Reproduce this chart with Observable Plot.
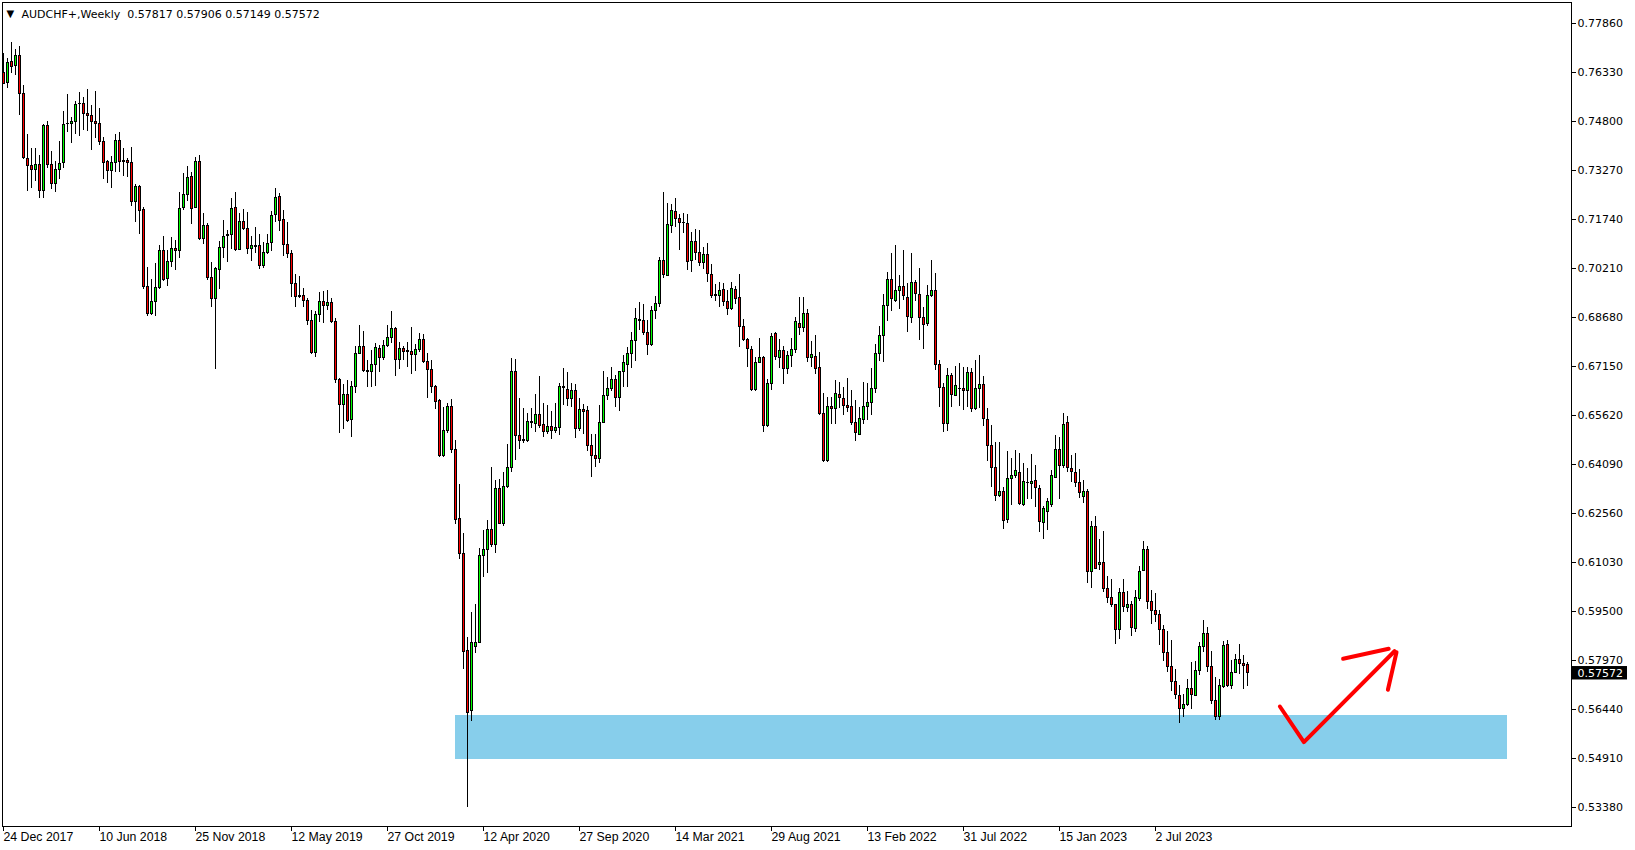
<!DOCTYPE html>
<html><head><meta charset="utf-8">
<script src="https://cdn.jsdelivr.net/npm/d3@7"></script>
<script src="https://cdn.jsdelivr.net/npm/@observablehq/plot@0.6"></script>
<style>html,body{margin:0;padding:0;background:#fff;} #chart svg{display:block}</style>
</head><body><div id="chart"></div>
<script>
// Weekly AUDCHF+ bars, one per week from 24 Dec 2017 (bar index 0)
const open = [
.76319,.76007,.76673,.76527,.7686,.75663,.73633,.73425,.7329,.73446,.72634,.74674,
.73446,.72853,.7329,.73508,.74716,.74716,.74778,.75351,.75351,.75039,.74987,.74799,
.74726,.74164,.73529,.73248,.73508,.74195,.73571,.73571,.73508,.7228,.72759,.72041,
.69636,.68793,.69157,.69594,.7076,.69886,.70406,.70823,.7075,.72093,.72509,.73071,
.72093,.7355,.71125,.71541,.69918,.69262,.70168,.70855,.7123,.71271,.72104,.70792,
.71677,.71448,.70813,.70917,.70917,.70293,.70699,.71011,.71885,.72458,.71729,.70949,
.70667,.69731,.69366,.69356,.6921,.68585,.67565,.68773,.69168,.69044,.69148,.68554,
.66733,.65941,.66264,.65483,.66514,.67544,.67774,.67024,.66982,.67201,.67711,.6742,
.67794,.68044,.68325,.67357,.67711,.67597,.67617,.67513,.67669,.67982,.67284,.67045,
.66524,.66088,.6435,.65151,.6589,.64547,.62392,.61299,.5828,.56396,.58405,.5852,
.61237,.61424,.62049,.61581,.63329,.62236,.63381,.63985,.66983,.64985,.64828,.64839,
.65391,.65359,.6564,.65338,.65099,.65266,.6513,.65234,.66525,.66431,.6614,.664,
.65203,.65797,.65776,.64672,.6437,.64266,.65391,.66234,.66452,.66733,.66171,.66994,
.67202,.67545,.67941,.68607,.68586,.68201,.67815,.68898,.69106,.7046,.69991,.71532,
.71969,.71761,.71646,.71605,.70439,.71043,.70699,.70376,.70647,.70022,.69377,.69346,
.69544,.69158,.68961,.69554,.69294,.68398,.67982,.6768,.66431,.67274,.6743,.65286,
.66608,.68169,.67409,.67638,.67066,.67472,.6767,.68482,.68357,.68794,.6742,.67462,
.67097,.65672,.64194,.65901,.65828,.66265,.6612,.65932,.65901,.65391,.65016,.65484,
.6588,.66025,.66452,.67545,.68107,.69044,.69856,.6918,.69513,.69648,.69294,.6867,
.69763,.69388,.6867,.68482,.69336,.69523,.67202,.66483,.65359,.66858,.66244,.66442,
.66463,.664,.66952,.65828,.66452,.66577,.65494,.64672,.63985,.631,.63246,.62361,
.63642,.63725,.63829,.6283,.63527,.63485,.63589,.63329,.62267,.62601,.6284,.63673,
.64547,.64037,.65391,.63954,.63839,.63527,.63069,.63246,.60727,.62153,.60956,.61018,
.60206,.59925,.59707,.58926,.60081,.59603,.59707,.58957,.59884,.60758,.61424,.598,
.59519,.59394,.58926,.58207,.57781,.57312,.56865,.56448,.56573,.57094,.56865,.57635,
.58384,.58801,.57781,.56719,.56198,.57156,.58458,.57187,.57572,.57999,.57875,.57817];
const high = [
.76912,.76756,.77256,.77048,.77141,.75923,.74393,.73946,.73946,.73737,.74695,.74799,
.73862,.7355,.74175,.75112,.75632,.74935,.75424,.75715,.75559,.75799,.75299,.75736,
.75195,.743,.73581,.73717,.74393,.74456,.73946,.73654,.73987,.72832,.728,.72103,
.7024,.69855,.70365,.70927,.71208,.7077,.71177,.71072,.72571,.73186,.73394,.73217,
.73675,.73737,.71916,.71603,.70407,.70251,.71063,.71708,.71396,.72396,.72583,.71938,
.72062,.71958,.71209,.715,.71261,.71021,.71271,.7199,.72708,.72562,.72021,.71656,
.70772,.70022,.6996,.69595,.69262,.68898,.68856,.6945,.69491,.69522,.69262,.68658,
.66764,.66576,.66712,.66691,.67774,.68429,.68242,.67336,.67649,.67857,.67815,.67961,
.68419,.68867,.68377,.67898,.67774,.67909,.68367,.67836,.68169,.68138,.67544,.67336,
.66556,.66119,.65859,.65984,.66119,.64839,.63465,.61924,.58676,.59467,.59717,.61456,
.62028,.6234,.63996,.6359,.63621,.6385,.64714,.67389,.67358,.66161,.65849,.65672,
.65828,.66275,.66838,.65984,.65921,.65744,.65984,.66608,.67077,.66973,.66608,.66588,
.6614,.65963,.65901,.65026,.65016,.65921,.66994,.66796,.67108,.66869,.67004,.67483,
.67733,.68222,.68972,.69148,.69085,.68586,.69033,.69335,.70543,.72583,.7225,.72198,
.72396,.71896,.71938,.71886,.71344,.71417,.71396,.70876,.7098,.70335,.697,.69783,
.69752,.69523,.69762,.69648,.70022,.68607,.68013,.67774,.67441,.68024,.67462,.66743,
.68169,.68221,.67982,.67784,.67628,.68013,.6869,.69304,.69304,.68919,.6793,.68107,
.67576,.66296,.66192,.66191,.66712,.66639,.66504,.66764,.664,.66087,.65858,.6666,
.66608,.67077,.67837,.68399,.69388,.70085,.70689,.70929,.69981,.70772,.69731,.70668,
.69835,.7021,.69003,.69679,.7046,.70044,.67337,.66608,.67077,.66921,.6715,.67254,
.67129,.67129,.67098,.67337,.67483,.66837,.65848,.65307,.64776,.64776,.6336,.64506,
.64287,.64526,.64422,.6411,.63954,.64401,.64058,.63433,.62777,.63017,.63902,.64995,
.64943,.65672,.65588,.6437,.64422,.63923,.6359,.63309,.62309,.62465,.61737,.61997,
.60592,.60498,.59717,.60206,.60498,.60123,.59821,.60144,.60904,.61685,.61528,.60144,
.6005,.59519,.59051,.58874,.58593,.57677,.57187,.56906,.57375,.57916,.57937,.5852,
.59217,.59009,.5826,.57448,.57385,.58562,.58603,.57968,.58156,.58468,.58124,.57906];
const low = [
.7595,.7584,.76288,.76236,.74987,.73612,.72624,.72717,.72936,.72384,.72405,.73342,
.72686,.72592,.72977,.73321,.74445,.74102,.74404,.74341,.74518,.74487,.73894,.74258,
.7405,.72988,.72873,.72717,.73196,.73217,.73092,.73061,.72155,.71655,.71281,.69553,
.6872,.68741,.6872,.69553,.69802,.69657,.7025,.70146,.70531,.7202,.72311,.71593,
.72072,.71083,.70968,.69834,.68981,.67066,.69543,.70511,.70407,.70792,.7074,.70772,
.71396,.70636,.70438,.70688,.70178,.70199,.70647,.70751,.71636,.71375,.70584,.70532,
.69314,.68981,.69283,.68981,.68419,.67524,.6744,.68523,.68481,.68898,.68481,.66608,
.65046,.65181,.6539,.64942,.66295,.67524,.66951,.66503,.66483,.66535,.66951,.67336,
.67753,.67878,.66847,.67066,.67336,.67128,.66889,.67003,.67597,.67232,.6616,.66295,
.65816,.64318,.64318,.65047,.64422,.62205,.61133,.57677,.53388,.56074,.58176,.58489,
.60571,.60675,.61508,.61299,.62205,.62163,.6335,.6385,.64214,.64547,.64735,.64766,
.65203,.65078,.65224,.64943,.65026,.6486,.65047,.65005,.65932,.65901,.6588,.64891,
.6513,.65016,.64495,.63673,.63985,.6411,.6536,.66088,.66379,.6588,.65755,.66504,
.66484,.67098,.67316,.68273,.68117,.67503,.67784,.68617,.69002,.69908,.6997,.71292,
.71501,.70772,.71292,.70147,.70095,.7046,.70272,.70168,.69762,.69283,.69179,.69002,
.69023,.68752,.6889,.6909,.67753,.6792,.67128,.66379,.66379,.67232,.65098,.65255,
.664,.67337,.67076,.66587,.66899,.67128,.67545,.68117,.68221,.67285,.67128,.66889,
.65619,.64142,.64163,.65339,.65339,.65848,.65619,.65724,.65308,.64818,.64995,.65338,
.65463,.65619,.66296,.67316,.67285,.68565,.68878,.69159,.68919,.69211,.68201,.68503,
.6919,.67962,.6767,.68409,.69315,.67025,.6588,.65078,.65109,.6588,.66213,.65901,
.65776,.6588,.65724,.65776,.65828,.65276,.64193,.63381,.62944,.63069,.62059,.62236,
.62809,.63642,.62798,.62788,.62986,.62986,.62757,.61976,.61737,.62028,.62757,.63642,
.62986,.63975,.6385,.63538,.63361,.63038,.62861,.60383,.60227,.6081,.60779,.60102,
.59738,.59634,.58478,.58614,.59457,.59467,.58728,.58832,.59821,.60748,.59561,.59103,
.59165,.58437,.57947,.57583,.57,.5675,.56011,.56198,.56532,.56448,.56844,.575,
.58228,.57604,.56584,.56094,.56094,.57083,.57135,.57063,.57552,.57531,.57063,.57149];
const close = [
.75976,.76631,.76496,.7686,.75663,.73654,.73425,.7329,.73446,.72634,.74674,.73446,
.72853,.7329,.73477,.74695,.74726,.74789,.7532,.75341,.75039,.74966,.74778,.74716,
.74154,.73498,.73248,.73508,.74195,.73529,.73529,.73508,.7228,.72759,.71999,.69636,
.68793,.69157,.69594,.7076,.69865,.70406,.70823,.7075,.72072,.72509,.7304,.72061,
.7355,.71125,.71541,.69907,.69262,.70199,.70855,.71209,.71271,.72083,.70792,.71677,
.71438,.70813,.70917,.70897,.70303,.70699,.7099,.71865,.72427,.71708,.70949,.70667,
.69731,.69314,.69335,.6921,.68565,.67565,.68773,.69168,.69044,.69148,.68533,.66733,
.65941,.66264,.65452,.66514,.67544,.67774,.67003,.66982,.67211,.67732,.6742,.67794,
.68044,.68325,.67357,.67711,.67597,.67638,.67513,.67669,.67982,.67284,.67045,.66524,
.66045,.6435,.65151,.6589,.64547,.62361,.61299,.58249,.56334,.5852,.5852,.61237,
.61424,.62049,.61581,.63329,.62236,.63381,.63985,.66983,.64985,.64839,.6485,.65422,
.65432,.6564,.65286,.65099,.65266,.65151,.65234,.66504,.66484,.6614,.664,.65203,
.65797,.65724,.64662,.6436,.64266,.65391,.66234,.66452,.66733,.66171,.66994,.67254,
.67545,.67941,.68618,.68565,.6819,.67815,.68898,.6909,.7046,.70022,.71584,.72021,
.71761,.71636,.71626,.70418,.71043,.70699,.70376,.70647,.70043,.69346,.69346,.69523,
.69158,.68961,.69585,.69252,.68378,.67982,.67701,.66431,.67274,.6743,.65286,.66608,
.68086,.67441,.67638,.67066,.67493,.6767,.68544,.68357,.68794,.6742,.67524,.67066,
.65671,.64194,.65901,.65828,.66297,.66172,.65911,.65859,.65381,.65079,.65516,.6588,
.66025,.66452,.67545,.68107,.69044,.69856,.69263,.69513,.69648,.69336,.68701,.69763,
.69419,.6867,.68451,.69336,.69523,.67202,.66483,.65359,.66858,.66265,.66546,.66463,
.66379,.66952,.65828,.66452,.66577,.65505,.64672,.63975,.631,.63225,.6234,.63642,
.63725,.63902,.62861,.63548,.63506,.63558,.6336,.62288,.62705,.62913,.63735,.64547,
.64058,.65338,.63975,.6385,.63506,.63194,.63246,.60727,.62153,.60831,.61018,.60196,
.59925,.59707,.58926,.60081,.59634,.59707,.58978,.59925,.60737,.61424,.5979,.59509,
.59394,.58926,.58197,.5776,.57292,.56896,.56448,.56594,.57094,.56886,.57656,.58405,
.58801,.5776,.56698,.56198,.57187,.58437,.57187,.57583,.57999,.57854,.57791,.57572];

const dateLabels = ["24 Dec 2017","10 Jun 2018","25 Nov 2018","12 May 2019","27 Oct 2019","12 Apr 2020",
  "27 Sep 2020","14 Mar 2021","29 Aug 2021","13 Feb 2022","31 Jul 2022","15 Jan 2023","2 Jul 2023"];
const labelEvery = 24; // bars between date labels
const priceTicks = [0.7786,0.7633,0.748,0.7327,0.7174,0.7021,0.6868,0.6715,0.6562,0.6409,0.6256,0.6103,0.595,0.5797,0.5644,0.5491,0.5338];
const symbolName = "AUDCHF+,Weekly";
const lastBar = {open: 0.57817, high: 0.57906, low: 0.57149, close: 0.57572};
// support zone (bar index range, price range)
const zone = [{x1: 113, x2: 376, y1: 0.54879, y2: 0.56253}];
// hand-drawn arrow (bar index, price)
const arrowPath = [[319.1,0.56534],[325.1,0.55419],[347.75,0.5826]];
const arrowHeadA = [[334.9,0.58023],[346.3,0.58335]];
const arrowHeadB = [[348.25,0.58229],[346.1,0.57055]];

const candles = open.map((o, i) => ({i, o, h: high[i], l: low[i], c: close[i], up: close[i] >= o}));
const xDomain = [-0.25, 392];
const yDomain = [0.52787, 0.78516];
const fmt = d3.format(".5f");
const titleText = symbolName + "\u00a0\u00a0" + [lastBar.open, lastBar.high, lastBar.low, lastBar.close].map(fmt).join(" ");

const chart = Plot.plot({
  width: 1635, height: 850,
  marginLeft: 2, marginRight: 64, marginTop: 2, marginBottom: 24,
  x: {type: "linear", domain: xDomain, axis: null},
  y: {type: "linear", domain: yDomain, axis: null},
  style: {fontFamily: "DejaVu Sans", fontSize: "11px", color: "black", background: "white", overflow: "visible"},
  marks: [
    Plot.rect(zone, {x1: "x1", x2: "x2", y1: "y1", y2: "y2", fill: "#87ceeb", shapeRendering: "crispEdges"}),
    Plot.ruleX(candles, {x: "i", y1: "l", y2: "h", stroke: "black", strokeWidth: 1, shapeRendering: "crispEdges"}),
    Plot.rect(candles, {x1: d => d.i - 0.25, x2: d => d.i + 0.25, y1: "o", y2: "c",
      fill: d => d.up ? "#00ff00" : "#ff0000", stroke: "black", strokeWidth: 1, shapeRendering: "crispEdges"}),
    Plot.line(arrowPath, {x: d => d[0], y: d => d[1], stroke: "#ff0000", strokeWidth: 4}),
    Plot.line(arrowHeadA, {x: d => d[0], y: d => d[1], stroke: "#ff0000", strokeWidth: 4}),
    Plot.line(arrowHeadB, {x: d => d[0], y: d => d[1], stroke: "#ff0000", strokeWidth: 4}),
    Plot.frame({stroke: "black", shapeRendering: "crispEdges"}),
    Plot.axisY(priceTicks, {anchor: "right", tickFormat: fmt, tickSize: 4, tickPadding: 2,
      fontSize: 11, fontFamily: "DejaVu Sans", stroke: "black"}),
    Plot.axisX(dateLabels.map((_, k) => k * labelEvery), {anchor: "bottom",
      tickFormat: d => dateLabels[Math.round(d / labelEvery)], tickSize: 5, tickPadding: 1,
      textAnchor: "start", fontSize: 12.3, fontFamily: "Liberation Sans", stroke: "black"}),
    Plot.rect([lastBar], {x1: () => xDomain[1] + 0.25, x2: () => xDomain[1] + 14,
      y1: d => d.close - 0.0021, y2: d => d.close + 0.0021, fill: "black"}),
    Plot.text([lastBar], {x: () => xDomain[1], y: "close", text: d => fmt(d.close), fill: "white",
      textAnchor: "start", dx: 6, fontSize: 11, fontFamily: "DejaVu Sans"}),
    Plot.text(["\u25BC"], {frameAnchor: "top-left", text: d => d, dx: 4, dy: 11, textAnchor: "start",
      lineAnchor: "middle", fontSize: 10, fill: "black"}),
    Plot.text([titleText], {frameAnchor: "top-left", text: d => d, dx: 19, dy: 11.5, textAnchor: "start",
      lineAnchor: "middle", fontSize: 11, fontFamily: "DejaVu Sans", fill: "black"})
  ]
});
document.getElementById("chart").appendChild(chart);
</script>
</body></html>
